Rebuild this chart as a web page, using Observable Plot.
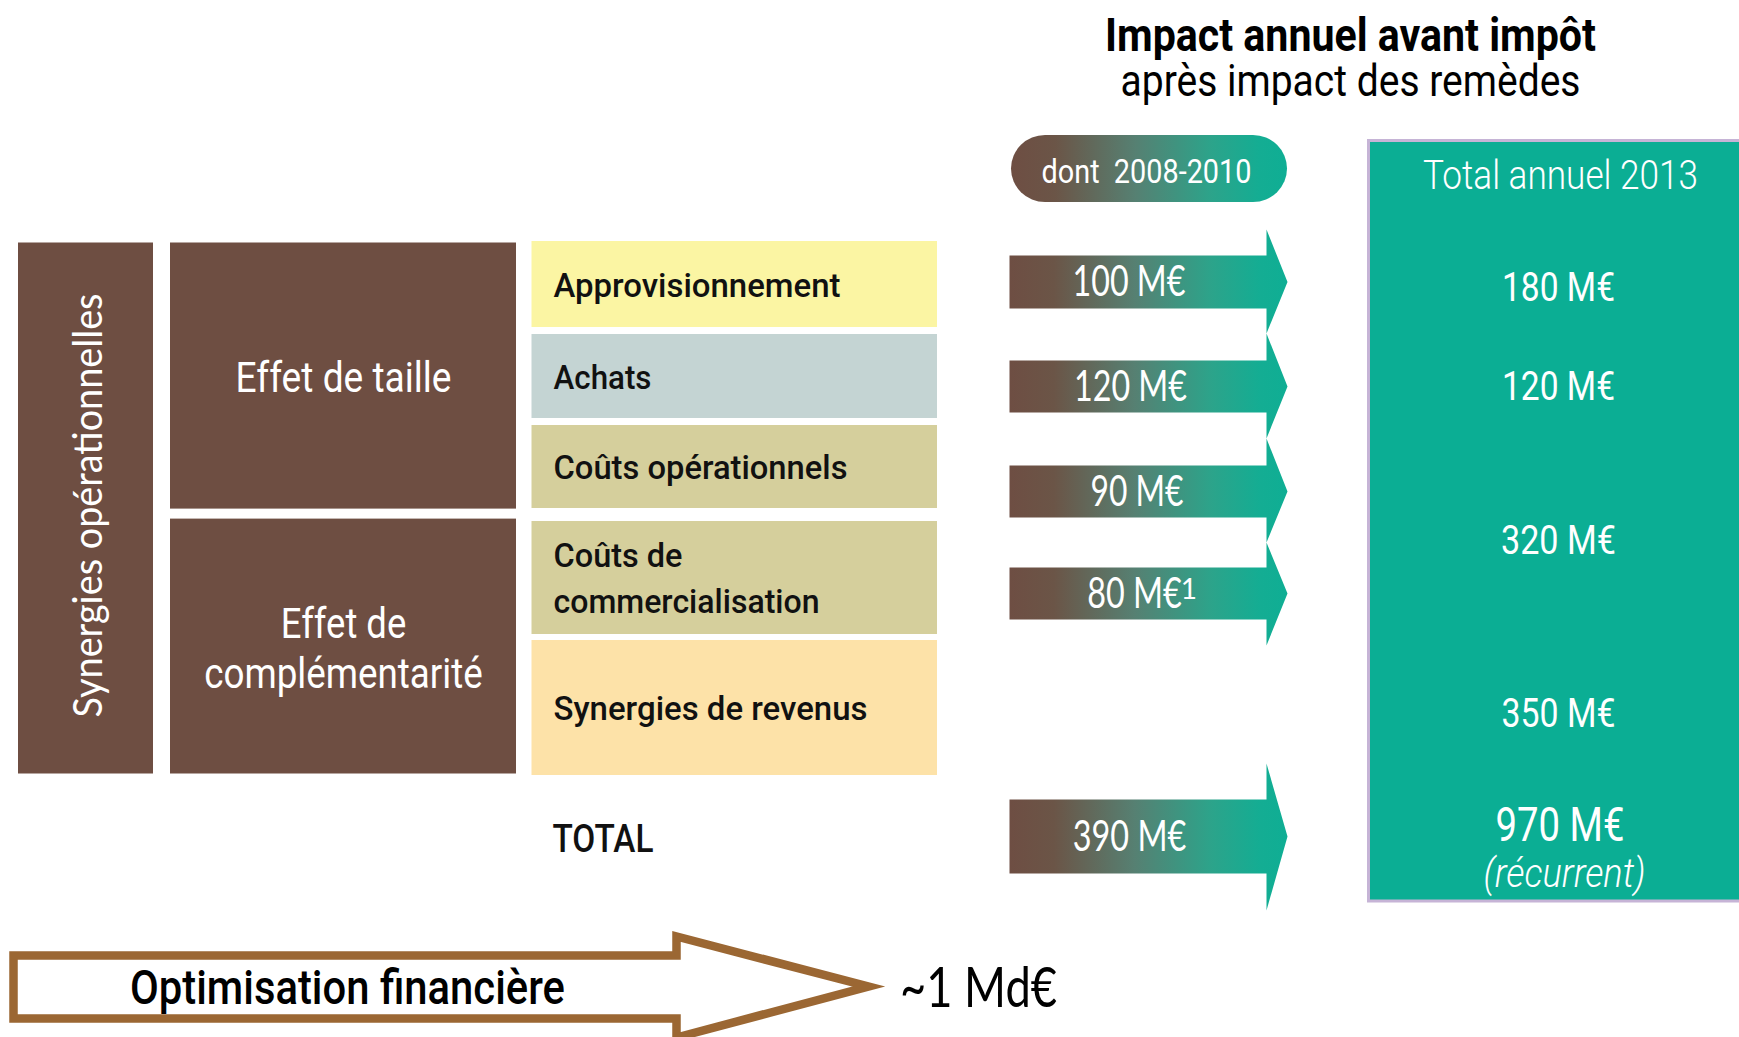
<!DOCTYPE html>
<html>
<head>
<meta charset="utf-8">
<script src="https://cdn.jsdelivr.net/npm/d3@7"></script>
<script src="https://cdn.jsdelivr.net/npm/@observablehq/plot@0.6"></script>
<style>
  html, body { margin: 0; padding: 0; background: #fff; overflow: hidden; }
  #chart svg { display: block; }
</style>
</head>
<body>
<div id="chart"></div>
<script>
// ---------------- DATA ----------------
const titleLines = ["Impact annuel avant impôt", "après impact des remèdes"];
const periodLabel = "dont\u00a0 2008-2010";
const totalHeader = "Total annuel 2013";
const groupLabel = "Synergies opérationnelles";
const effectLabels = ["Effet de taille", "Effet de\ncomplémentarité"];
const categories = ["Approvisionnement", "Achats", "Coûts opérationnels", "Coûts de\ncommercialisation", "Synergies de revenus"];
const impact2008_2010 = [100, 120, 90, 80];           // M€, per category (first four)
const impact2008_2010Notes = ["", "", "", "1"];       // footnote markers
const impact2008_2010Total = 390;                      // M€
const total2013 = [180, 120, 320, 350];                // M€ (320 = both "Coûts" rows)
const total2013Sum = 970;                              // M€
const total2013Note = "(récurrent)";
const totalRowLabel = "TOTAL";
const financeLabel = "Optimisation financière";
const financeValue = "~1 Md€";

// ---------------- LAYOUT & STYLE (pixels of the 1739×1037 picture) ----------------
const W = 1739, H = 1037;
const brown = "#6e4e42", teal = "#0bae94";
const catColors = ["#fbf5a3", "#c4d4d3", "#d5cf9c", "#d5cf9c", "#fde2a8"];
const layout = {
  groupX: [18, 153], groupY: [242.5, 773.5],
  effectX: [170, 516], effectBands: [[242.5, 508.6], [518.6, 773.5]],
  catX: [531.5, 937], catBands: [[241, 327], [334, 418], [425, 508], [521, 634], [640, 775]],
  arrowX: [1009, 1266, 1287],
  arrowBodies: [[255, 308], [360, 412], [465, 517], [567, 619], [799, 873]],
  arrowHeads: [[229, 333], [333, 438], [438, 542], [542, 645], [763, 910]],
  arrowLabelX: [1128.5, 1130, 1136.5, 1134, 1129],
  pill: {x1: 1011, x2: 1287, y1: 135, y2: 202},
  totalBox: {x1: 1368.5, x2: 1745, y1: 140.5, y2: 901},
  totalBaselines: [300, 399, 553, 726],
  finArrow: {x0: 13, y1: 955, y2: 1018, xb: 676, hy1: 936, hy2: 1037, xt: 868}
};
const boxCenterX = 1558;
// target widths for each text (reproduce condensed typefaces)
const textWidths = new Map([
  [titleLines[0], 491], [titleLines[1], 460], [periodLabel, 210], [totalHeader, 275],
  ["180 M€", 113], ["120 M€", 113], ["320 M€", 115], ["350 M€", 114], ["970 M€", 129], [total2013Note, 162],
  ["100 M€", 113], ["90 M€", 93], ["80 M€", 94.5], ["390 M€", 113.5],
  ["Approvisionnement", 287], ["Achats", 98], ["Coûts opérationnels", 294], ["Coûts de", 129],
  ["commercialisation", 266], ["Synergies de revenus", 314], ["TOTAL", 101],
  ["Effet de taille", 216], ["Effet de", 125.5], ["complémentarité", 278.6],
  [groupLabel, 424], [financeLabel, 435], [financeValue, 157]
]);

const mid = b => (b[0] + b[1]) / 2;
const fmt = v => `${v} M€`;

// ---------------- DERIVED TABLES ----------------
const rects = [
  {x1: layout.groupX[0], x2: layout.groupX[1], y1: layout.groupY[0], y2: layout.groupY[1], fill: brown},
  ...layout.effectBands.map(b => ({x1: layout.effectX[0], x2: layout.effectX[1], y1: b[0], y2: b[1], fill: brown})),
  ...categories.map((c, i) => ({x1: layout.catX[0], x2: layout.catX[1], y1: layout.catBands[i][0], y2: layout.catBands[i][1], fill: catColors[i]}))
];

const arrowValues = [...impact2008_2010, impact2008_2010Total];
const arrowPts = [];
arrowValues.forEach((v, i) => {
  const [bx0, bx1, tx] = layout.arrowX;
  const [b1, b2] = layout.arrowBodies[i];
  const [h1, h2] = layout.arrowHeads[i];
  [[bx0, b1], [bx1, b1], [bx1, h1], [tx, mid([b1, b2])], [bx1, h2], [bx1, b2], [bx0, b2]]
    .forEach(([x, y]) => arrowPts.push({id: i, x, y}));
});

const fa = layout.finArrow;
const finPts = [[fa.x0, mid([fa.y1, fa.y2])], [fa.x0, fa.y1], [fa.xb, fa.y1], [fa.xb, fa.hy1], [fa.xt, mid([fa.hy1, fa.hy2]) - 0.5],
  [fa.xb, fa.hy2], [fa.xb, fa.y2], [fa.x0, fa.y2], [fa.x0, mid([fa.y1, fa.y2])]].map(([x, y]) => ({x, y}));

const arrowLabels = arrowValues.map((v, i) => ({
  text: fmt(v),
  x: layout.arrowLabelX[i],
  y: mid(layout.arrowBodies[i]) + 14
}));
const arrowNotes = arrowLabels
  .map((d, i) => ({text: impact2008_2010Notes[i] || "", x: d.x + textWidths.get(d.text) / 2 - 1, y: d.y - 9}))
  .filter(d => d.text);

const catLines = [];
categories.forEach((c, i) => {
  const lines = c.split("\n");
  const c0 = mid(layout.catBands[i]);
  lines.forEach((t, k) => catLines.push({text: t, x: 553, y: c0 + 12 + (k - (lines.length - 1) / 2) * 46.5}));
});

const effLines = [];
effectLabels.forEach((e, i) => {
  const lines = e.split("\n");
  const c0 = mid(layout.effectBands[i]);
  lines.forEach((t, k) => effLines.push({text: t, x: mid(layout.effectX), y: c0 + 16 + (k - (lines.length - 1) / 2) * 50}));
});

const totalLabels = total2013.map((v, i) => ({text: fmt(v), x: boxCenterX, y: layout.totalBaselines[i]}));

// ---------------- PLOT ----------------
const txt = (data, o) => Plot.text(data, {x: "x", y: "y", text: "text", lineAnchor: "bottom", ...o});

const svg = Plot.plot({
  width: W, height: H, margin: 0,
  x: {domain: [0, W], range: [0, W], axis: null},
  y: {domain: [0, H], range: [0, H], axis: null},
  color: {type: "identity"},
  style: {background: "#fff"},
  marks: [
    Plot.rect(rects, {x1: "x1", x2: "x2", y1: "y1", y2: "y2", fill: "fill"}),
    Plot.rect([layout.totalBox], {x1: "x1", x2: "x2", y1: "y1", y2: "y2", fill: teal, stroke: "#c6b4d6", strokeWidth: 3}),
    Plot.rect([layout.pill], {x1: "x1", x2: "x2", y1: "y1", y2: "y2", fill: "url(#brownTeal)", rx: 34}),
    Plot.line(arrowPts, {x: "x", y: "y", z: "id", fill: "url(#brownTeal)", stroke: "none"}),
    Plot.line(finPts, {x: "x", y: "y", fill: "#fff", stroke: "#9b6733", strokeWidth: 8.5, strokeLinejoin: "miter", strokeMiterlimit: 10, strokeLinecap: "butt"}),
    // titles
    txt([{text: titleLines[0], x: 1350, y: 50}], {fontFamily: "Roboto", fontWeight: 700, fontSize: 47, fill: "#000"}),
    txt([{text: titleLines[1], x: 1350, y: 95}], {fontFamily: "Roboto", fontWeight: 400, fontSize: 44, fill: "#000"}),
    txt([{text: periodLabel, x: mid([layout.pill.x1, layout.pill.x2]) - 3, y: 182}], {fontFamily: "Roboto", fontWeight: 400, fontSize: 34, fill: "#fff"}),
    txt([{text: totalHeader, x: 1560, y: 188}], {fontFamily: "Roboto", fontWeight: 300, fontSize: 41, fill: "#fff"}),
    txt(totalLabels, {fontFamily: "Roboto", fontWeight: 400, fontSize: 41, fill: "#fff"}),
    txt([{text: fmt(total2013Sum), x: 1559.5, y: 840}], {fontFamily: "Roboto", fontWeight: 400, fontSize: 49, fill: "#fff"}),
    txt([{text: total2013Note, x: 1564, y: 886}], {fontFamily: "Roboto", fontWeight: 300, fontStyle: "italic", fontSize: 40, fill: "#fff"}),
    txt(arrowLabels, {fontFamily: "Lato", fontWeight: 400, fontSize: 42, fill: "#fff"}),
    txt(arrowNotes, {textAnchor: "start", fontFamily: "Lato", fontWeight: 400, fontSize: 28, fill: "#fff"}),
    txt(catLines, {textAnchor: "start", fontFamily: "Roboto", fontWeight: 500, fontSize: 33, fill: "#111"}),
    txt([{text: totalRowLabel, x: 552, y: 851}], {textAnchor: "start", fontFamily: "Roboto", fontWeight: 500, fontSize: 38, fill: "#111"}),
    txt(effLines, {fontFamily: "Roboto", fontWeight: 400, fontSize: 42, fill: "#fff"}),
    txt([{text: groupLabel, x: 101, y: mid([293, 717])}], {rotate: -90, fontFamily: "Lato", fontWeight: 400, fontSize: 40, fill: "#fff"}),
    txt([{text: financeLabel, x: 347, y: 1003}], {fontFamily: "Roboto", fontWeight: 500, fontSize: 49, fill: "#000"}),
    txt([{text: financeValue, x: 978, y: 1006}], {fontFamily: "Lato", fontWeight: 400, fontSize: 57, fill: "#000"})
  ]
});

document.getElementById("chart").appendChild(svg);

// gradient definition used by the arrows and the pill
const defs = d3.select(svg).insert("defs", ":first-child");
const g = defs.append("linearGradient").attr("id", "brownTeal").attr("x1", 0).attr("x2", 1).attr("y1", 0).attr("y2", 0);
[[0, "#6e4e43"], [0.16, "#6b5547"], [0.45, "#568072"], [0.72, "#2da38a"], [0.9, "#14ad93"], [1, "#0fae94"]]
  .forEach(([o, c]) => g.append("stop").attr("offset", o).attr("stop-color", c));

// condense text to the reference's measured widths
d3.select(svg).selectAll("text").each(function () {
  const w = textWidths.get(this.textContent);
  if (w) d3.select(this).attr("textLength", w).attr("lengthAdjust", "spacingAndGlyphs");
});
</script>
</body>
</html>
